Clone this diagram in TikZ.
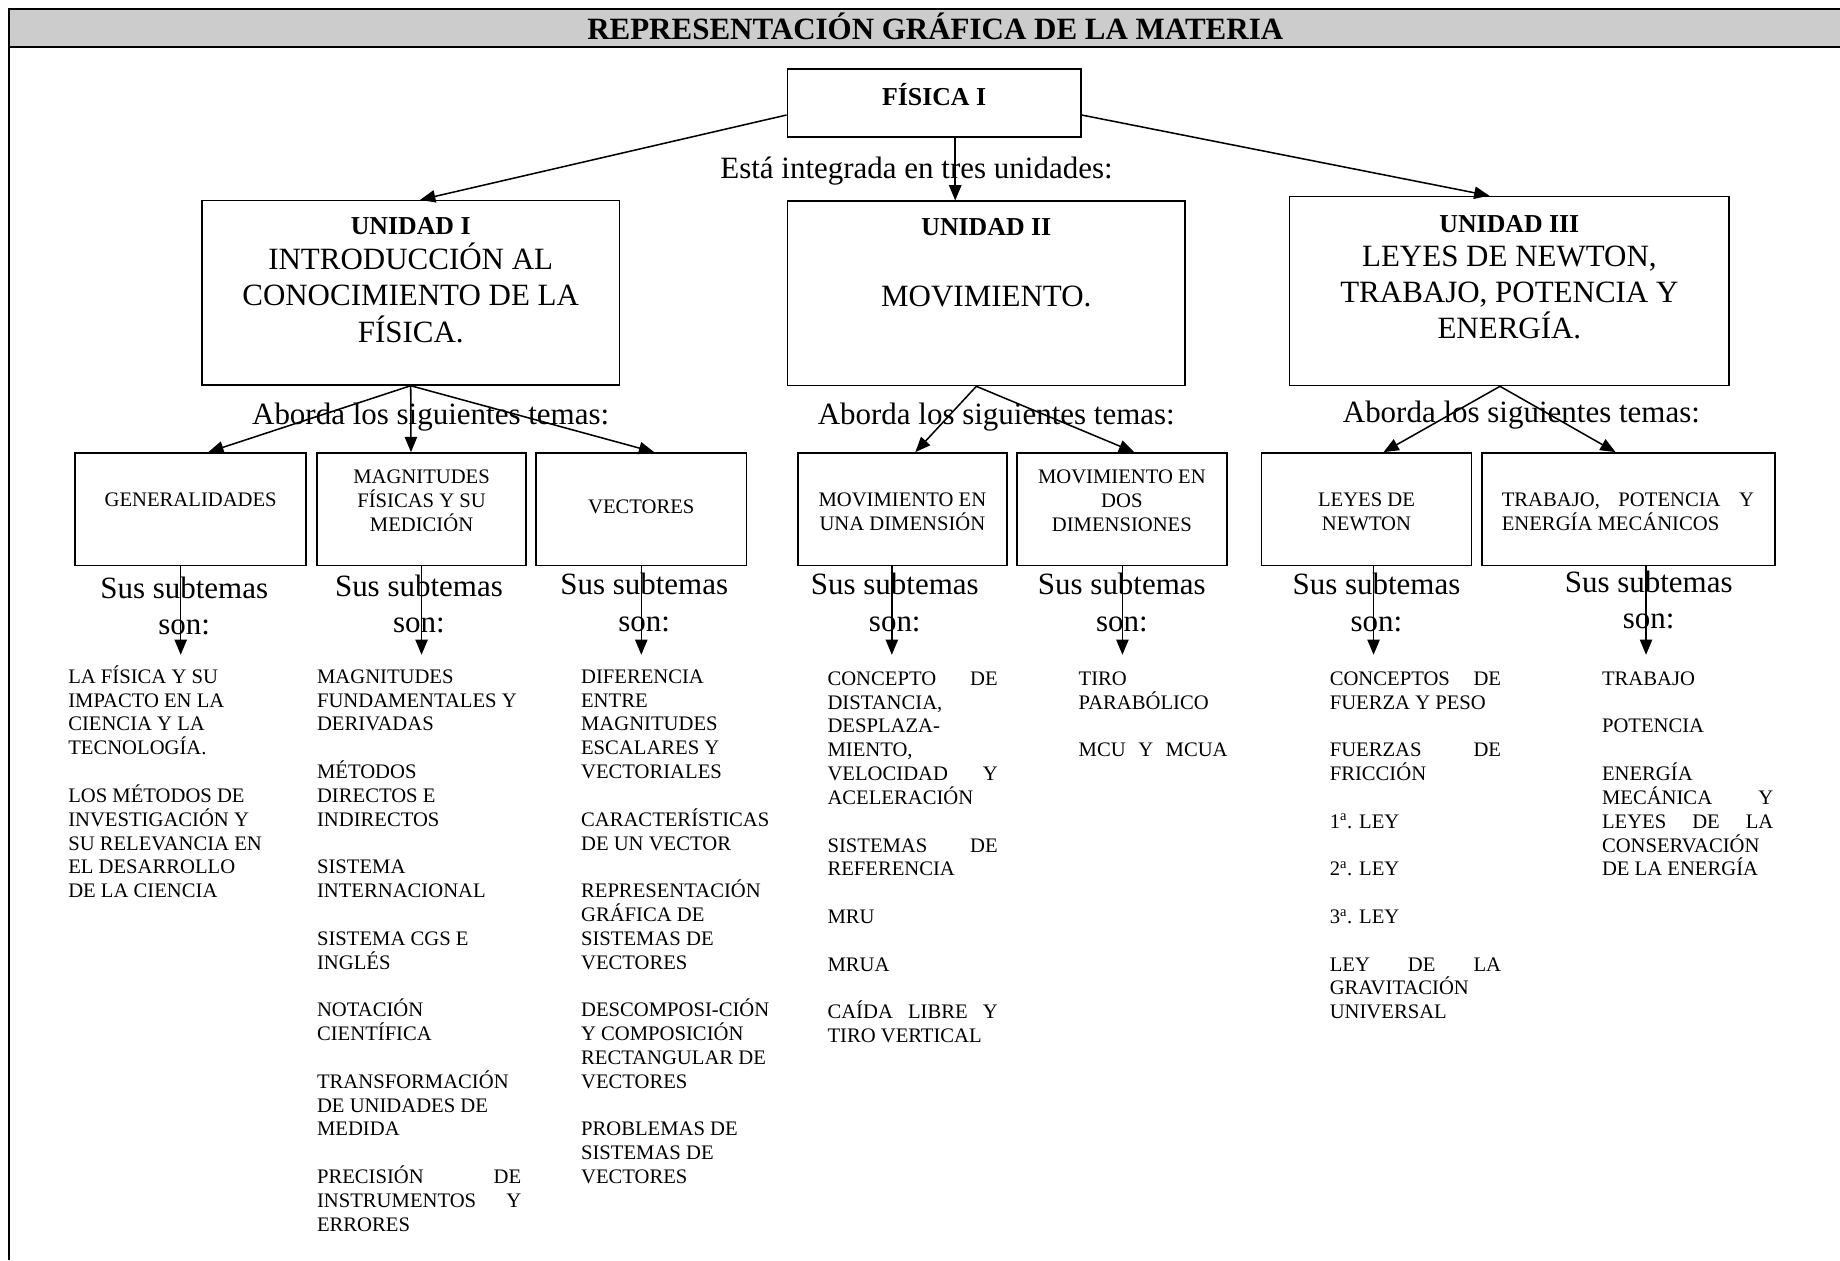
\documentclass[tikz,border=0pt]{standalone}
\usepackage{fontspec}
\setmainfont{Liberation Serif}
\usetikzlibrary{arrows.meta}
\definecolor{hdr}{HTML}{CCCCCC}
\newcommand\FSm{\fontsize{17.6}{20.3}\selectfont}
\newcommand\FLg{\fontsize{26.4}{31}\selectfont}
\newcommand\FBd{\bfseries\fontsize{22}{26}\selectfont}
\newcommand\JL[2]{\makebox[#1][s]{#2}}
\newcommand\VT[1]{\vtop{\let\\\cr\halign{##\hfil\cr#1\crcr}}}
\newcommand\VC[1]{\vtop{\let\\\cr\halign{\hfil##\hfil\cr#1\crcr}}}
\begin{document}
\begin{tikzpicture}[x=1pt,y=-1pt,
  box/.style={draw, line width=1.4pt, inner sep=0pt},
  conn/.style={line width=1.3pt, -{Triangle[length=13pt,width=10.5pt]}},
  txt/.style={inner sep=0pt, anchor=base},
  big/.style={txt, font=\FLg},
  sml/.style={txt, font=\FSm},
  bld/.style={txt, font=\FBd},
  lst/.style={inner sep=0pt, anchor=base west, font=\FSm}]
\useasboundingbox (0,0) rectangle (1568,1074);
% header
\fill[hdr] (7.4,7.7) rectangle (1568,40);
\draw[line width=1.8pt] (7.4,7.7) -- (1568,7.7);
\draw[line width=1.8pt] (7.4,40) -- (1568,40);
\draw[line width=1.7pt] (7.4,6.8) -- (7.4,1074);
\node[txt, font=\bfseries\fontsize{26.4}{30}\selectfont] (title) at (797,34) {REPRESENTACIÓN GRÁFICA DE LA MATERIA};
% boxes
\node[box, minimum width=250pt, minimum height=58pt] (fis) at (796,88) {};
\node[box, minimum width=356pt, minimum height=157pt] (u1) at (350,249.5) {};
\node[box, minimum width=339pt, minimum height=157pt] (u2) at (840.5,250) {};
\node[box, minimum width=374.5pt, minimum height=161pt] (u3) at (1286.25,248) {};
\node[box, minimum width=197pt, minimum height=96pt] (gen) at (162.5,434) {};
\node[box, minimum width=178.5pt, minimum height=96pt] (mag) at (359.25,434) {};
\node[box, minimum width=179pt, minimum height=96pt] (vec) at (546.5,434) {};
\node[box, minimum width=178pt, minimum height=96pt] (m1) at (769,434) {};
\node[box, minimum width=179pt, minimum height=96pt] (m2) at (956,434) {};
\node[box, minimum width=179pt, minimum height=96pt] (ley) at (1164.5,434) {};
\node[box, minimum width=249.5pt, minimum height=96pt] (tra) at (1387.75,434) {};
% box texts
\node[bld] (fist) at (796,89.5) {FÍSICA I};
\node[big] (integ) at (781,152.5) {Está integrada en tres unidades:};
\node[bld] (u1a) at (350,200) {UNIDAD I};
\node[big] (u1b) at (350,229.6) {\VC{INTRODUCCIÓN AL\\CONOCIMIENTO DE LA\\FÍSICA.}};
\node[bld] (u2a) at (840.5,200.5) {UNIDAD II};
\node[big] (u2b) at (840.5,261.5) {MOVIMIENTO.};
\node[bld] (u3a) at (1286.25,198) {UNIDAD III};
\node[big] (u3b) at (1286.25,226.7) {\VC{LEYES DE NEWTON,\\TRABAJO, POTENCIA Y\\ENERGÍA.}};
\node[big] (ab1) at (367,362) {Aborda los siguientes temas:};
\node[big] (ab2) at (849,362) {Aborda los siguientes temas:};
\node[big] (ab3) at (1296.5,360) {Aborda los siguientes temas:};
\node[sml] (gent) at (162.5,432) {GENERALIDADES};
\node[sml] (magt) at (359.25,412) {\VC{MAGNITUDES\\FÍSICAS Y SU\\MEDICIÓN}};
\node[sml] (vect) at (546.5,437.4) {VECTORES};
\node[sml] (m1t) at (769,431.8) {\VC{MOVIMIENTO EN\\UNA DIMENSIÓN}};
\node[sml] (m2t) at (956,412) {\VC{MOVIMIENTO EN\\DOS\\DIMENSIONES}};
\node[sml] (leyt) at (1164.5,432) {\VC{LEYES DE\\NEWTON}};
\node[lst] (trat) at (1279.6,432) {\VT{\JL{215pt}{TRABAJO, POTENCIA Y}\\ENERGÍA MECÁNICOS}};
% sus subtemas
\node[big] (s1) at (157,510) {\VC{Sus subtemas\\son:}};
\node[big] (s2) at (357,508) {\VC{Sus subtemas\\son:}};
\node[big] (s3) at (549,507) {\VC{Sus subtemas\\son:}};
\node[big] (s4) at (762.5,507) {\VC{Sus subtemas\\son:}};
\node[big] (s5) at (956,507) {\VC{Sus subtemas\\son:}};
\node[big] (s6) at (1173,507) {\VC{Sus subtemas\\son:}};
\node[big] (s7) at (1405,505) {\VC{Sus subtemas\\son:}};
% lists
\node[lst] (l1) at (58,582.3) {\VT{LA FÍSICA Y SU\\IMPACTO EN LA\\CIENCIA Y LA\\TECNOLOGÍA.\\\\LOS MÉTODOS DE\\INVESTIGACIÓN Y\\SU RELEVANCIA EN\\EL DESARROLLO\\DE LA CIENCIA}};
\node[lst] (l2) at (270,582.3) {\VT{MAGNITUDES\\FUNDAMENTALES Y\\DERIVADAS\\\\MÉTODOS\\DIRECTOS E\\INDIRECTOS\\\\SISTEMA\\INTERNACIONAL\\\\SISTEMA CGS E\\INGLÉS\\\\NOTACIÓN\\CIENTÍFICA\\\\TRANSFORMACIÓN\\DE UNIDADES DE\\MEDIDA\\\\\JL{174pt}{PRECISIÓN DE}\\\JL{174pt}{INSTRUMENTOS Y}\\ERRORES}};
\node[lst] (l3) at (495,582.3) {\VT{DIFERENCIA\\ENTRE\\MAGNITUDES\\ESCALARES Y\\VECTORIALES\\\\CARACTERÍSTICAS\\DE UN VECTOR\\\\REPRESENTACIÓN\\GRÁFICA DE\\SISTEMAS DE\\VECTORES\\\\DESCOMPOSI-CIÓN\\Y COMPOSICIÓN\\RECTANGULAR DE\\VECTORES\\\\PROBLEMAS DE\\SISTEMAS DE\\VECTORES}};
\node[lst] (l4) at (705,584) {\VT{\JL{145pt}{CONCEPTO DE}\\DISTANCIA,\\DESPLAZA-\\MIENTO,\\\JL{145pt}{VELOCIDAD Y}\\ACELERACIÓN\\\\\JL{145pt}{SISTEMAS DE}\\REFERENCIA\\\\MRU\\\\MRUA\\\\\JL{145pt}{CAÍDA LIBRE Y}\\TIRO VERTICAL}};
\node[lst] (l5) at (919,584) {\VT{TIRO\\PARABÓLICO\\\\\JL{127pt}{MCU Y MCUA}}};
\node[lst] (l6) at (1133,584) {\VT{\JL{146pt}{CONCEPTOS DE}\\FUERZA Y PESO\\\\\JL{146pt}{FUERZAS DE}\\FRICCIÓN\\\\1\textsuperscript{a}. LEY\\\\2\textsuperscript{a}. LEY\\\\3\textsuperscript{a}. LEY\\\\\JL{146pt}{LEY DE LA}\\GRAVITACIÓN\\UNIVERSAL}};
\node[lst] (l7) at (1365,584) {\VT{TRABAJO\\\\POTENCIA\\\\ENERGÍA\\\JL{146pt}{MECÁNICA Y}\\\JL{146pt}{LEYES DE LA}\\CONSERVACIÓN\\DE LA ENERGÍA}};
% arrow end points
\coordinate (tgen) at (154,558);
\coordinate (tmag) at (359.25,558);
\coordinate (tvec) at (546.5,558);
\coordinate (tm1) at (760,558);
\coordinate (tm2) at (956.5,558);
\coordinate (tley) at (1170.5,558);
\coordinate (ttra) at (1402.7,558);
% connectors
\draw[conn] ([yshift=-10pt]fis.west) -- ([xshift=8pt]u1.north);
\draw[conn] ([xshift=18pt]fis.south) -- ([xshift=18pt]fis.south |- u2.north);
\draw[conn] ([yshift=-10pt]fis.east) -- ([xshift=-17pt]u3.north);
\draw[conn] (u1.south) -- ([xshift=15pt]gen.north);
\draw[conn] (u1.south) -- ([xshift=-9pt]mag.north);
\draw[conn] (u1.south) -- ([xshift=11pt]vec.north);
\draw[conn] ([xshift=-8.5pt]u2.south) -- ([xshift=11pt]m1.north);
\draw[conn] ([xshift=-8.5pt]u2.south) -- ([xshift=10.5pt]m2.north);
\draw[conn] ([xshift=-8pt]u3.south) -- ([xshift=14.5pt]ley.north);
\draw[conn] ([xshift=-8pt]u3.south) -- ([xshift=-11pt]tra.north);
\draw[conn] (tgen |- gen.south) -- (tgen);
\draw[conn] (tmag |- mag.south) -- (tmag);
\draw[conn] (tvec |- vec.south) -- (tvec);
\draw[conn] (tm1 |- m1.south) -- (tm1);
\draw[conn] (tm2 |- m2.south) -- (tm2);
\draw[conn] (tley |- ley.south) -- (tley);
\draw[conn] (ttra |- tra.south) -- (ttra);
\end{tikzpicture}
\end{document}
